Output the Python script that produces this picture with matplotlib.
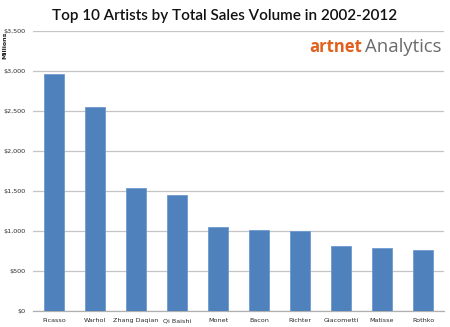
import matplotlib
matplotlib.use("Agg")
import matplotlib.pyplot as plt
from matplotlib.ticker import FuncFormatter

# total sales 2002-2012, millions USD
artists = ["Picasso", "Warhol", "Zhang Daqian", "Qi Baishi", "Monet",
           "Bacon", "Richter", "Giacometti", "Matisse", "Rothko"]
sales = [2960, 2545, 1535, 1450, 1045, 1010, 995, 812, 780, 757]

yticks = [0, 500, 1000, 1500, 2000, 2500, 3000, 3500]

fig = plt.figure(figsize=(4.5, 3.27), dpi=100)
ax = fig.add_axes([0.0744, 0.0498, 0.9112, 0.8552])

ax.bar(range(len(artists)), sales, width=0.49, color="#4F81BD",
       edgecolor="#6E9AD0", linewidth=0.6, zorder=3)

ax.set_xlim(-0.5, len(artists) - 0.5)
ax.set_ylim(0, 3500)
ax.set_yticks(yticks)
ax.yaxis.set_major_formatter(FuncFormatter(lambda v, p: "${:,.0f}".format(v)))
ax.set_xticks(range(len(artists)))
ax.set_xticklabels(artists)
ax.tick_params(axis="both", length=0, labelsize=4.6, labelcolor="#2A2A2A")
ax.tick_params(axis="x", pad=5.5)
ax.tick_params(axis="y", pad=5.5)

ax.grid(axis="y", color="#C4C4C4", linewidth=0.9, zorder=0)
for side in ["top", "right", "left"]:
    ax.spines[side].set_visible(False)
ax.spines["bottom"].set_color("#B0B0B0")
ax.spines["bottom"].set_linewidth(0.9)

fig.text(0.5, 0.952, "Top 10 Artists by Total Sales Volume in 2002-2012",
         ha="center", va="center", fontsize=11, family="Lato",
         weight="semibold", color="#111111")
fig.text(0.006, 0.862, "Millions", rotation=90, ha="left", va="center",
         fontsize=4.5, weight="bold", color="#222222")

# logo
fig.text(0.804, 0.84, "artnet", ha="right", va="baseline", fontsize=12,
         family="Open Sans", weight="bold", color="#E2601E")
fig.text(0.811, 0.84, "Analytics", ha="left", va="baseline", fontsize=13.3,
         family="Open Sans", color="#6B6B6B")

fig.savefig("out.png", dpi=100)
